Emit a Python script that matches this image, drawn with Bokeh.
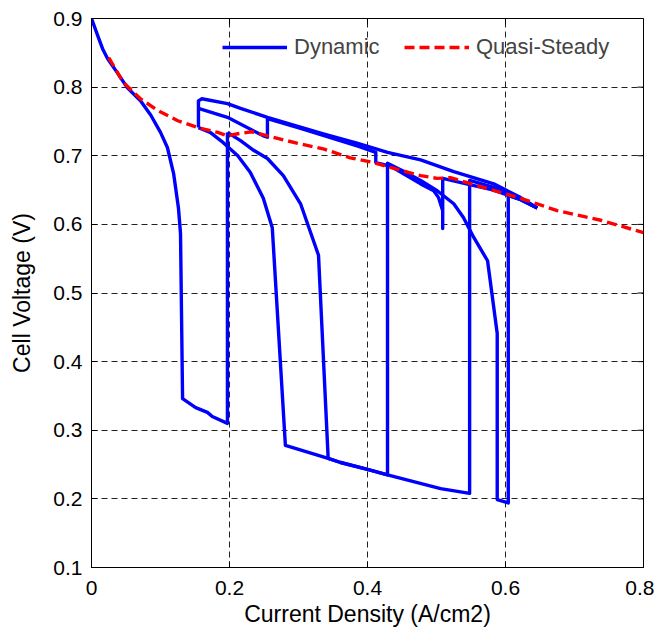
import math
from bokeh.plotting import figure
from bokeh.models import Range1d, FixedTicker, ColumnDataSource, Legend, LegendItem
from bokeh.embed import file_html
from bokeh.resources import INLINE

# ---- data ----
# Dynamic response: several traced branches of the current-voltage trajectory
polar_x = [0.000, 0.009, 0.016, 0.023, 0.038, 0.052, 0.071, 0.086, 0.100, 0.110, 0.119, 0.126, 0.129,
           0.132, 0.151, 0.168, 0.175, 0.197, 0.197]
polar_y = [0.900, 0.875, 0.856, 0.842, 0.820, 0.799, 0.780, 0.759, 0.734, 0.712, 0.674, 0.624, 0.587,
           0.346, 0.333, 0.326, 0.320, 0.310, 0.734]

branch_b_x = [0.197, 0.216, 0.235, 0.255, 0.278, 0.303, 0.329, 0.343, 0.361, 0.400, 0.429, 0.429,
              0.453, 0.477, 0.501, 0.525, 0.539, 0.554, 0.574, 0.588, 0.588, 0.604, 0.604, 0.622, 0.646]
branch_b_y = [0.734, 0.722, 0.708, 0.696, 0.671, 0.630, 0.555, 0.259, 0.253, 0.243, 0.235, 0.689,
              0.677, 0.664, 0.649, 0.630, 0.610, 0.581, 0.547, 0.441, 0.199, 0.194, 0.642, 0.636, 0.624]

branch_c_x = [0.155, 0.172, 0.191, 0.212, 0.230, 0.249, 0.262, 0.281, 0.343, 0.361, 0.400, 0.429,
              0.506, 0.548, 0.548, 0.583, 0.622, 0.646]
branch_c_y = [0.741, 0.734, 0.719, 0.700, 0.676, 0.638, 0.595, 0.278, 0.259, 0.253, 0.243, 0.235,
              0.215, 0.208, 0.664, 0.654, 0.637, 0.624]

branch_top_x = [0.155, 0.155, 0.160, 0.197, 0.216, 0.255, 0.288, 0.336, 0.386, 0.429, 0.477, 0.525,
                0.583, 0.622, 0.646]
branch_top_y = [0.741, 0.780, 0.783, 0.776, 0.769, 0.756, 0.746, 0.732, 0.718, 0.705, 0.694, 0.677,
                0.659, 0.639, 0.624]

branch_e_x = [0.155, 0.197, 0.249, 0.255, 0.255, 0.303, 0.386, 0.412, 0.412, 0.433, 0.477, 0.496,
              0.503, 0.509, 0.509, 0.509, 0.548, 0.583, 0.622, 0.646]
branch_e_y = [0.769, 0.756, 0.729, 0.727, 0.754, 0.740, 0.714, 0.705, 0.690, 0.685, 0.659, 0.649,
              0.639, 0.620, 0.594, 0.667, 0.658, 0.650, 0.636, 0.624]

# Quasi-steady polarization curve
qs_x = [0.025, 0.046, 0.071, 0.096, 0.125, 0.154, 0.183, 0.197, 0.212, 0.232, 0.255, 0.299, 0.336,
        0.375, 0.409, 0.433, 0.477, 0.501, 0.520, 0.574, 0.622, 0.675, 0.738, 0.800]
qs_y = [0.843, 0.807, 0.783, 0.766, 0.751, 0.741, 0.734, 0.729, 0.732, 0.735, 0.729, 0.718, 0.710,
        0.697, 0.690, 0.683, 0.671, 0.667, 0.668, 0.652, 0.638, 0.620, 0.606, 0.588]

x_ticks = [0, 0.2, 0.4, 0.6, 0.8]
x_tick_labels = ["0", "0.2", "0.4", "0.6", "0.8"]
y_ticks = [0.1, 0.2, 0.3, 0.4, 0.5, 0.6, 0.7, 0.8, 0.9]
y_tick_labels = ["0.1", "0.2", "0.3", "0.4", "0.5", "0.6", "0.7", "0.8", "0.9"]
x_lim = (0, 0.8)
y_lim = (0.1, 0.9)

FONT = "Liberation Sans"

p = figure(frame_width=552, frame_height=549, min_border_left=91, min_border_right=11,
           min_border_top=18, min_border_bottom=66,
           x_range=Range1d(*x_lim), y_range=Range1d(*y_lim),
           output_backend="svg", toolbar_location=None)

for g in (p.xgrid[0], p.ygrid[0]):
    g.grid_line_color = "#222222"
    g.grid_line_dash = "6 4"
    g.grid_line_width = 1
p.xgrid[0].ticker = FixedTicker(ticks=x_ticks)
p.ygrid[0].ticker = FixedTicker(ticks=y_ticks)

dyn_src = ColumnDataSource(dict(
    xs=[polar_x, branch_b_x, branch_c_x, branch_top_x, branch_e_x],
    ys=[polar_y, branch_b_y, branch_c_y, branch_top_y, branch_e_y]))
r_dyn = p.multi_line("xs", "ys", source=dyn_src, line_color="#0000ff", line_width=3.4,
                     line_join="round")
r_qs = p.line(qs_x, qs_y, line_color="#ff0000", line_width=3.4, line_dash="10 5")

# inward ticks on the top and right edges of the box (clipped markers)
p.scatter(x_ticks, [y_lim[1]] * len(x_ticks), marker="dash", size=12, angle=math.pi / 2,
          line_color="black", line_width=1)
p.scatter([x_lim[1]] * len(y_ticks), y_ticks, marker="dash", size=12,
          line_color="black", line_width=1)

# axes styling
for ax in (p.xaxis[0], p.yaxis[0]):
    ax.major_tick_in = 6
    ax.major_tick_out = 0
    ax.minor_tick_line_color = None
    ax.axis_line_color = "black"
    ax.major_tick_line_color = "black"
    ax.major_label_text_font = FONT
    ax.major_label_text_font_size = "21px"
    ax.major_label_text_color = "black"
    ax.axis_label_text_font = FONT
    ax.axis_label_text_font_size = "23px"
    ax.axis_label_text_font_style = "normal"
    ax.axis_label_text_color = "black"

p.xaxis[0].ticker = FixedTicker(ticks=x_ticks)
p.xaxis[0].major_label_overrides = {t: l for t, l in zip(x_ticks, x_tick_labels)}
p.yaxis[0].ticker = FixedTicker(ticks=y_ticks)
p.yaxis[0].major_label_overrides = {t: l for t, l in zip(y_ticks, y_tick_labels)}
p.xaxis[0].axis_label = "Current Density (A/cm2)"
p.yaxis[0].axis_label = "Cell Voltage (V)"
p.xaxis[0].major_label_standoff = 13
p.xaxis[0].axis_label_standoff = 3
p.yaxis[0].major_label_standoff = 9
p.yaxis[0].axis_label_standoff = 15

p.outline_line_color = "black"
p.outline_line_width = 1

legend = Legend(items=[LegendItem(label="Dynamic", renderers=[r_dyn]),
                       LegendItem(label="Quasi-Steady", renderers=[r_qs])],
                orientation="horizontal", location=(121, 497),
                background_fill_alpha=0, border_line_alpha=0,
                label_text_font=FONT, label_text_font_size="22px",
                glyph_width=65, label_standoff=7, label_width=110, spacing=0,
                margin=0, padding=10)
p.add_layout(legend)

p.background_fill_color = "white"
p.border_fill_color = "white"

open("out.html", "w").write(file_html(p, INLINE))
